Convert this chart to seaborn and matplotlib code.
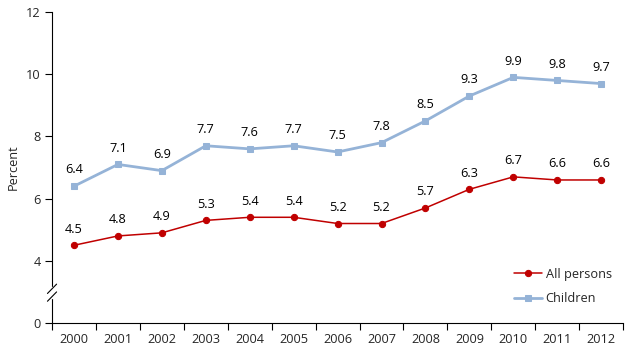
import numpy as np
import pandas as pd
import matplotlib
matplotlib.use("Agg")
import matplotlib.pyplot as plt
import seaborn as sns

sns.set_style("white")
plt.rcParams["font.family"] = ["Open Sans", "DejaVu Sans"]

years = [str(y) for y in range(2000, 2013)]
all_persons = [4.5, 4.8, 4.9, 5.3, 5.4, 5.4, 5.2, 5.2, 5.7, 6.3, 6.7, 6.6, 6.6]
children = [6.4, 7.1, 6.9, 7.7, 7.6, 7.7, 7.5, 7.8, 8.5, 9.3, 9.9, 9.8, 9.7]

RED = "#C00000"
BLUE = "#95B3D7"
FS = 9.2

fig = plt.figure(figsize=(6.36, 3.62), dpi=100)
ax = fig.add_axes([0.0818, 0.1077, 0.898, 0.859])

x = np.arange(len(years))
sns.lineplot(x=x, y=all_persons, ax=ax, color=RED, marker="o", markersize=4.5,
             markeredgecolor=RED, linewidth=1.1, label="All persons")
sns.lineplot(x=x, y=children, ax=ax, color=BLUE, marker="s", markersize=4.5,
             markeredgecolor=BLUE, linewidth=2, label="Children")

# data labels above points
for series in (all_persons, children):
    for xi, v in zip(x, series):
        ax.annotate(f"{v:.1f}", (xi, v), xytext=(0, 7), textcoords="offset points",
                    ha="center", va="bottom", fontsize=FS, color="black")

# broken axis: bottom of the axis (value 2) is labelled 0
ax.set_ylim(2, 12)
ax.set_yticks([2, 4, 6, 8, 10, 12])
ax.set_yticklabels(["0", "4", "6", "8", "10", "12"])
ax.set_xlim(-0.5, len(years) - 0.5)
ax.set_xticks(np.arange(-0.5, len(years)), labels=[""] * (len(years) + 1))
ax.set_xticks(x, labels=years, minor=True)
ax.tick_params(axis="x", which="minor", bottom=True, length=0, pad=7, labelsize=FS)
ax.tick_params(axis="x", which="major", bottom=True, length=5, direction="out",
               width=0.8, color="black")
ax.tick_params(axis="y", left=True, length=5, direction="out", width=0.8,
               color="black", pad=3, labelsize=FS)
ax.set_ylabel("Percent", fontsize=FS, labelpad=5)
ax.set_xlabel("")

sns.despine(ax=ax)
for s in ["left", "bottom"]:
    ax.spines[s].set_color("black")
    ax.spines[s].set_linewidth(0.8)

# axis break marks
kw = dict(transform=ax.transAxes, color="black", lw=0.8, clip_on=False)
ax.plot([0.0, 0.0], [0.085, 0.112], color="white", lw=2.5, transform=ax.transAxes,
        clip_on=False, zorder=5)
ax.plot([-0.008, 0.008], [0.07, 0.10], zorder=6, **kw)
ax.plot([-0.008, 0.008], [0.095, 0.125], zorder=6, **kw)

ax.legend(loc="lower right", frameon=False, fontsize=FS, handlelength=2.2,
          handletextpad=0.3, labelspacing=0.9, bbox_to_anchor=(1.0, 0.02))

fig.savefig("out.png", dpi=100)
